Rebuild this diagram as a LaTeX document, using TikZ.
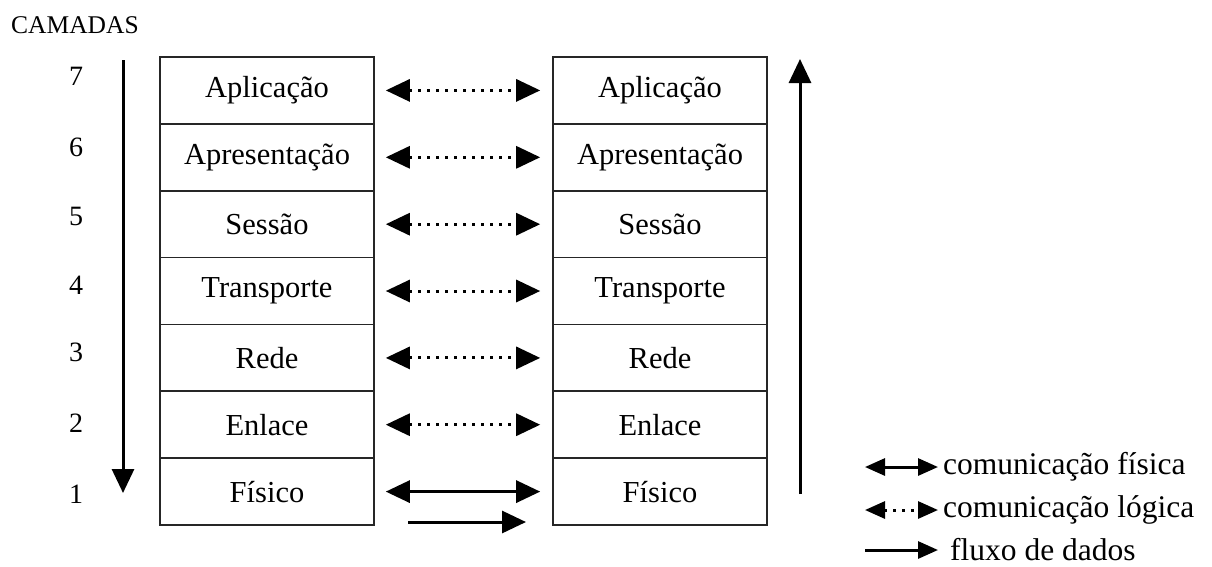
\documentclass[tikz,border=0pt]{standalone}
\usepackage{fontspec}
\setmainfont{Liberation Serif}
\usetikzlibrary{arrows.meta}
\begin{document}
\begin{tikzpicture}[x=1pt,y=-1pt,
  layer/.style={draw=black!85, line width=1.6pt, minimum width=214pt, minimum height=66.9pt, inner sep=0pt, font=\fontsize{30.5}{33}\selectfont},
  num/.style={font=\fontsize{28}{30}\selectfont},
  big/.style={-{Triangle[length=24pt,width=22pt]}, line width=3pt},
  phys/.style={{Triangle[length=24pt,width=22pt]}-{Triangle[length=24pt,width=22pt]}, line width=3pt, shorten <=11pt, shorten >=12pt},
  logic/.style={{Triangle[length=24pt,width=22pt]}-{Triangle[length=24pt,width=22pt]}, line width=3pt, dash pattern=on 3pt off 6pt, shorten <=11pt, shorten >=12pt},
  lphys/.style={{Triangle[length=20pt,width=17pt]}-{Triangle[length=20pt,width=17pt]}, line width=3pt},
  llogic/.style={{Triangle[length=20pt,width=17pt]}-{Triangle[length=20pt,width=17pt]}, line width=3pt, dash pattern=on 3pt off 6pt},
  lflow/.style={-{Triangle[length=20pt,width=17pt]}, line width=3pt},
  legtext/.style={anchor=west, inner sep=0pt, font=\fontsize{31.5}{34}\selectfont}
]
\useasboundingbox (0,0) rectangle (1212,566);

\node[anchor=west, inner sep=0pt, font=\fontsize{25.5}{28}\selectfont] (title) at (11,25) {CAMADAS};

% layer numbers
\node[num] (n7) at (76,76) {7};
\node[num] (n6) at (76,147) {6};
\node[num] (n5) at (76,216) {5};
\node[num] (n4) at (76,285) {4};
\node[num] (n3) at (76,352) {3};
\node[num] (n2) at (76,423) {2};
\node[num] (n1) at (76,494) {1};

% left stack
\node[layer] (L7) at (267,90.4) {Aplicação};
\node[layer] (L6) at (267,157.3) {Apresentação};
\node[layer] (L5) at (267,224.2) {Sessão};
\node[layer] (L4) at (267,291.0) {Transporte};
\node[layer] (L3) at (267,357.9) {Rede};
\node[layer] (L2) at (267,424.7) {Enlace};
\node[layer] (L1) at (267,491.6) {Físico};

% right stack
\node[layer] (R7) at (660,90.4) {Aplicação};
\node[layer] (R6) at (660,157.3) {Apresentação};
\node[layer] (R5) at (660,224.2) {Sessão};
\node[layer] (R4) at (660,291.0) {Transporte};
\node[layer] (R3) at (660,357.9) {Rede};
\node[layer] (R2) at (660,424.7) {Enlace};
\node[layer] (R1) at (660,491.6) {Físico};

% peer communication
\draw[logic] (L7.east) -- (R7.west);
\draw[logic] (L6.east) -- (R6.west);
\draw[logic] (L5.east) -- (R5.west);
\draw[logic] (L4.east) -- (R4.west);
\draw[logic] (L3.east) -- (R3.west);
\draw[logic] (L2.east) -- (R2.west);
\draw[phys] (L1.east) -- (R1.west);

% data flow arrows
\coordinate (f1) at (408,522);
\coordinate (f2) at (526,522);
\draw[big] (f1) -- (f2);
\coordinate (d1) at (123,60);
\coordinate (d2) at (123,493);
\draw[big] (d1) -- (d2);
\coordinate (u1) at (800,494);
\coordinate (u2) at (800,59);
\draw[big] (u1) -- (u2);

% legend
\coordinate (a1) at (865,467);
\coordinate (a2) at (938,467);
\draw[lphys] (a1) -- (a2);
\node[legtext] (t1) at (943,467) {comunicação física};
\coordinate (b1) at (865,510);
\coordinate (b2) at (938,510);
\draw[llogic] (b1) -- (b2);
\node[legtext] (t2) at (943,510) {comunicação lógica};
\coordinate (c1) at (865,550);
\coordinate (c2) at (938,550);
\draw[lflow] (c1) -- (c2);
\node[legtext] (t3) at (950,550) {fluxo de dados};
\end{tikzpicture}
\end{document}
